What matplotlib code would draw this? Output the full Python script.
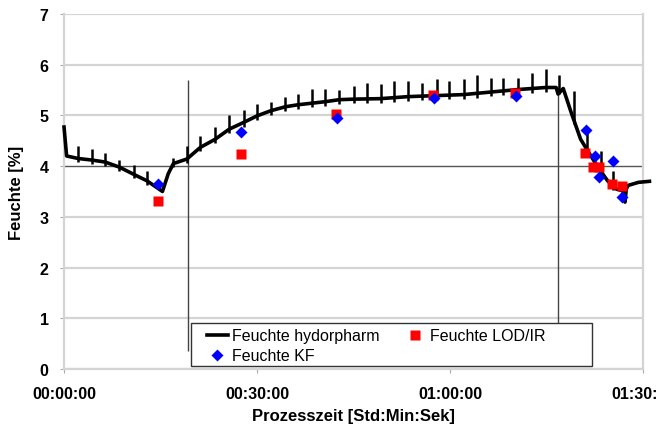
import matplotlib.pyplot as plt
from matplotlib.patches import Rectangle

plt.rcParams['font.family'] = ['Liberation Sans', 'DejaVu Sans']

# Feuchte hydorpharm: base curve (time in minutes, moisture in %)
hp_t = [0.0, 0.4, 2.2, 4.3, 6.4, 8.6, 10.8, 12.9, 15.3, 16.2, 17.0, 19.1, 21.2, 23.5,
        25.7, 27.9, 30.0, 32.1, 34.4, 36.4, 38.5, 40.6, 42.8, 45.0, 49.2, 53.5, 57.9,
        62.1, 66.3, 70.6, 74.9, 76.5, 76.8, 77.6, 78.8, 80.3, 81.9, 83.2, 84.5, 85.8,
        86.9, 87.2, 87.4, 87.7, 89.3, 91.0]
hp_v = [4.77, 4.2, 4.15, 4.12, 4.08, 3.98, 3.84, 3.71, 3.5, 3.85, 4.05, 4.14, 4.37, 4.53,
        4.73, 4.86, 4.99, 5.09, 5.17, 5.21, 5.24, 5.27, 5.31, 5.32, 5.33, 5.37, 5.39,
        5.41, 5.46, 5.51, 5.55, 5.55, 5.42, 5.53, 5.07, 4.53, 4.2, 3.94, 3.71, 3.55,
        3.51, 3.29, 3.55, 3.62, 3.68, 3.7]

# sensor spikes of the hydorpharm signal
spk_t = [2.2, 4.3, 6.4, 8.6, 10.8, 12.9, 17.0, 19.1, 21.2, 23.5, 25.7, 27.9, 30.0, 32.1,
         34.4, 36.4, 38.5, 40.6, 42.8, 45.0, 47.1, 49.2, 51.3, 53.5, 55.6, 57.9, 59.9,
         62.1, 64.2, 66.3, 68.3, 70.6, 72.7, 74.9, 77.0, 79.2, 81.3, 83.4, 85.4]
spk_lo = [4.08, 4.04, 4.0, 3.9, 3.76, 3.63, 3.98, 4.06, 4.29, 4.45, 4.65, 4.78, 4.91, 5.01,
          5.09, 5.13, 5.16, 5.19, 5.23, 5.24, 5.25, 5.25, 5.27, 5.29, 5.3, 5.31, 5.32,
          5.33, 5.35, 5.38, 5.4, 5.43, 5.45, 5.47, 5.42, 4.83, 4.18, 3.8, 3.53]
spk_hi = [4.4, 4.33, 4.26, 4.13, 4.03, 3.9, 4.16, 4.4, 4.6, 4.77, 5.0, 5.1, 5.23, 5.26,
          5.36, 5.42, 5.52, 5.52, 5.51, 5.57, 5.64, 5.61, 5.68, 5.68, 5.64, 5.72, 5.68,
          5.72, 5.79, 5.74, 5.74, 5.74, 5.83, 5.92, 5.79, 5.48, 4.65, 4.3, 3.9]

# Feuchte KF
kf_t = [14.6, 27.5, 42.4, 57.5, 70.3, 81.2, 82.6, 83.2, 85.4, 86.8]
kf_v = [3.65, 4.67, 4.94, 5.34, 5.38, 4.71, 4.2, 3.79, 4.1, 3.39]

# Feuchte LOD/IR
lod_t = [14.6, 27.5, 42.3, 57.4, 70.1, 81.0, 82.3, 83.1, 85.2, 86.8]
lod_v = [3.31, 4.24, 5.02, 5.4, 5.44, 4.25, 3.98, 3.98, 3.65, 3.6]

# phase markers
phase_t = [19.3, 76.8]
phase_top = [5.7, 5.55]

xticks = [0, 30, 60, 90]
xlabels = ['00:00:00', '00:30:00', '01:00:00', '01:30:00']

fig = plt.figure(figsize=(6.56, 4.27), dpi=100)
ax = fig.add_axes([0.0976, 0.1335, 0.8826, 0.8315])

for yv in [1, 2, 3, 5, 6, 7]:
    ax.axhline(yv, color='#d4d4d4', lw=1.6, zorder=0)
ax.axhline(0, color='#d4d4d4', lw=1.6, zorder=0)
ax.axhline(4, color='#555555', lw=1.0, zorder=1)
ax.vlines(phase_t, 0.36, phase_top, color='#444444', lw=1.0, zorder=1)

line, = ax.plot(hp_t, hp_v, color='black', lw=2.6, zorder=3, clip_on=False,
                label='Feuchte hydorpharm')
ax.vlines(spk_t, spk_lo, spk_hi, color='black', lw=1.8, zorder=3)
lod, = ax.plot(lod_t, lod_v, 's', color='#ff0000', ms=7.5, mec='none', zorder=4,
               label='Feuchte LOD/IR')
kf, = ax.plot(kf_t, kf_v, 'D', color='#0000ff', ms=6, mec='none', zorder=5,
              label='Feuchte KF')

ax.set_xlim(0, 90)
ax.set_ylim(0, 7)
ax.set_yticks(range(8))
ax.set_xticks(xticks)
ax.set_xticklabels(xlabels)
ax.spines['top'].set_visible(False)
for s in ['left', 'right', 'bottom']:
    ax.spines[s].set_color('#d4d4d4')
    ax.spines[s].set_linewidth(1.6)
ax.tick_params(axis='both', length=3, color='#aaaaaa', labelsize=11.5)
ax.tick_params(axis='x', pad=9)
ax.tick_params(axis='y', pad=8)
for lab in ax.get_xticklabels() + ax.get_yticklabels():
    lab.set_fontweight('bold')

ax.set_xlabel('Prozesszeit [Std:Min:Sek]', fontsize=12, fontweight='bold', labelpad=5)
ax.set_ylabel('Feuchte [%]', fontsize=12, fontweight='bold', labelpad=11)

# legend frame as in the original (wide box with empty space on the right)
box = Rectangle((0.219, 0.008), 0.693, 0.122, transform=ax.transAxes,
                facecolor='white', edgecolor='#333333', lw=1.0, zorder=6)
ax.add_patch(box)
leg = ax.legend(handles=[line, kf, lod], ncol=2, loc='lower left',
                bbox_to_anchor=(0.222, -0.024), fontsize=11.5, frameon=False,
                borderpad=0.4, handlelength=1.3, handletextpad=0.3,
                columnspacing=1.55, labelspacing=0.3)
leg.set_zorder(7)

fig.savefig('out.png', dpi=100)
